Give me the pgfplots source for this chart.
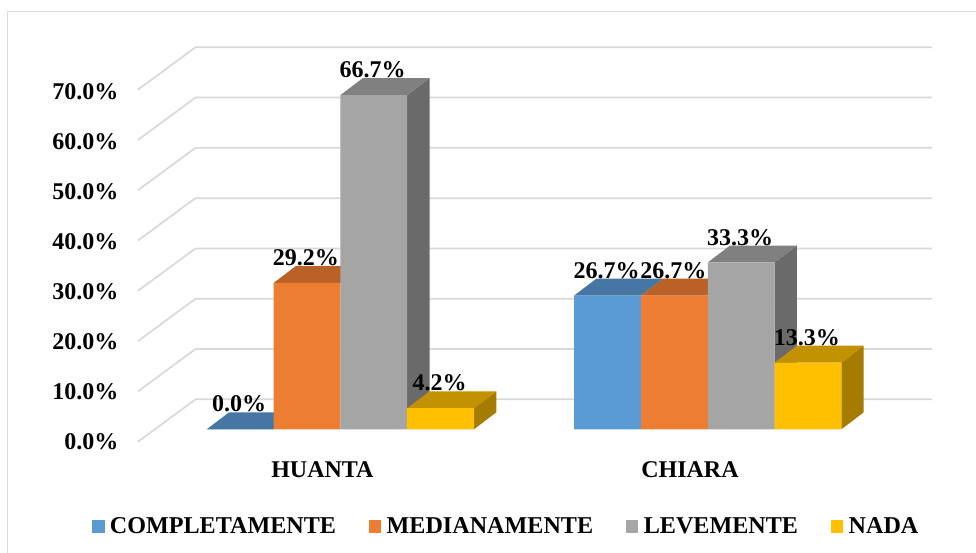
\documentclass[border=0pt]{standalone}
\usepackage{pgfplots}
\pgfplotsset{compat=1.18}
\usepackage{fontspec}
\setmainfont{Liberation Serif}
\definecolor{fB}{HTML}{5B9BD5}\definecolor{tB}{HTML}{4677A4}
\definecolor{fO}{HTML}{ED7D31}\definecolor{tO}{HTML}{B96127}
\definecolor{fG}{HTML}{A5A5A5}\definecolor{tG}{HTML}{808080}\definecolor{sG}{HTML}{6A6A6A}
\definecolor{fY}{HTML}{FFC000}\definecolor{tY}{HTML}{C29200}\definecolor{sY}{HTML}{A57C00}
\definecolor{gridc}{HTML}{D9D9D9}
\pgfplotsset{
  poly/.style={fill=#1,draw=none,forget plot,mark=none},
  front/.style={ybar,bar width=50.1pt,bar shift=0pt,fill=#1,draw=none,mark=none,
    area legend,
    legend image code/.code={\fill[#1] (0pt,-4.4pt) rectangle (9.2pt,5.3pt);}},
  wall/.style={draw=gridc,line width=1.3pt,forget plot,mark=none},
}
\begin{document}
\begin{tikzpicture}
\path[use as bounding box] (0,0) rectangle (732pt,414.75pt);
\fill[white] (0,0) rectangle (732pt,414.75pt);
\draw[gridc,line width=1pt] (5.8pt,-2pt) -- (5.8pt,406.1pt) -- (734pt,406.1pt);
\begin{axis}[
  at={(103.5pt,83.5pt)},anchor=south west,
  scale only axis,width=595.5pt,height=295.8pt,
  xmin=138,xmax=932,ymin=-2.475,ymax=76.25,
  clip=false,
  axis line style={draw=none},
  major tick length=0pt,
  ytick={0,10,20,30,40,50,60,70},
  yticklabel={\pgfmathprintnumber[fixed,fixed zerofill,precision=1,assume math mode=true]{\tick}\%},
  yticklabel style={anchor=east,font=\fontsize{18pt}{20pt}\bfseries,xshift=-11.2pt,yshift=-9.5pt},
  xtick={322.4,690},
  xticklabels={HUANTA,CHIARA},
  xticklabel style={font=\fontsize{18pt}{20pt}\bfseries,anchor=base,yshift=-26.7pt},
  nodes near coords={\pgfmathprintnumber[fixed,fixed zerofill,precision=1,assume math mode=true]{\pgfplotspointmeta}\%},
  every node near coord/.style={font=\fontsize{18pt}{20pt}\bfseries,anchor=base,inner sep=0pt,yshift=13pt,xshift=-0.8pt,text=black},
  legend columns=4,
  legend style={at={(axis cs:88,-19.5)},anchor=west,draw=none,fill=none,
    font=\fontsize{18.1pt}{20pt}\bfseries,
    /tikz/every even column/.style={column sep=22.8pt},
    /tikz/every odd column/.style={column sep=2pt}},
  legend cell align=left,
]
% wall lines
\addplot[wall,nodes near coords={}] coordinates {(138,-2.48)(195.5,5.97)(932,5.97)};
\addplot[wall,nodes near coords={}] coordinates {(138,7.56)(195.5,16.01)(932,16.01)};
\addplot[wall,nodes near coords={}] coordinates {(138,17.6)(195.5,26.05)(932,26.05)};
\addplot[wall,nodes near coords={}] coordinates {(138,27.64)(195.5,36.09)(932,36.09)};
\addplot[wall,nodes near coords={}] coordinates {(138,37.68)(195.5,46.13)(932,46.13)};
\addplot[wall,nodes near coords={}] coordinates {(138,47.72)(195.5,56.17)(932,56.17)};
\addplot[wall,nodes near coords={}] coordinates {(138,57.76)(195.5,66.21)(932,66.21)};
\addplot[wall,nodes near coords={}] coordinates {(138,67.8)(195.5,76.25)(932,76.25)};
% COMPLETAMENTE
\addplot[poly=tB,nodes near coords={}] coordinates {(206.8,0)(273.6,0)(295.9,3.38)(229.1,3.38)} -- cycle;
\addplot[poly=tB,nodes near coords={}] coordinates {(574.2,26.7)(641,26.7)(663.3,30.08)(596.5,30.08)} -- cycle;
\addplot[front=fB] coordinates {(240.2,0)(607.6,26.7)};
\addlegendentry{COMPLETAMENTE}
% MEDIANAMENTE
\addplot[poly=tO,nodes near coords={}] coordinates {(273.6,29.2)(340.4,29.2)(362.7,32.58)(295.9,32.58)} -- cycle;
\addplot[poly=tO,nodes near coords={}] coordinates {(641,26.7)(707.8,26.7)(730.1,30.08)(663.3,30.08)} -- cycle;
\addplot[front=fO] coordinates {(307,29.2)(674.4,26.7)};
\addlegendentry{MEDIANAMENTE}
% LEVEMENTE
\addplot[poly=sG,nodes near coords={}] coordinates {(407.2,0)(429.5,3.38)(429.5,70.08)(407.2,66.7)} -- cycle;
\addplot[poly=tG,nodes near coords={}] coordinates {(340.4,66.7)(407.2,66.7)(429.5,70.08)(362.7,70.08)} -- cycle;
\addplot[poly=sG,nodes near coords={}] coordinates {(774.6,0)(796.9,3.38)(796.9,36.68)(774.6,33.3)} -- cycle;
\addplot[poly=tG,nodes near coords={}] coordinates {(707.8,33.3)(774.6,33.3)(796.9,36.68)(730.1,36.68)} -- cycle;
\addplot[front=fG] coordinates {(373.8,66.7)(741.2,33.3)};
\addlegendentry{LEVEMENTE}
% NADA
\addplot[poly=sY,nodes near coords={}] coordinates {(474,0)(496.3,3.38)(496.3,7.58)(474,4.2)} -- cycle;
\addplot[poly=tY,nodes near coords={}] coordinates {(407.2,4.2)(474,4.2)(496.3,7.58)(429.5,7.58)} -- cycle;
\addplot[poly=sY,nodes near coords={}] coordinates {(841.4,0)(863.7,3.38)(863.7,16.68)(841.4,13.3)} -- cycle;
\addplot[poly=tY,nodes near coords={}] coordinates {(774.6,13.3)(841.4,13.3)(863.7,16.68)(796.9,16.68)} -- cycle;
\addplot[front=fY] coordinates {(440.6,4.2)(808,13.3)};
\addlegendentry{NADA}
\end{axis}
\end{tikzpicture}
\end{document}
